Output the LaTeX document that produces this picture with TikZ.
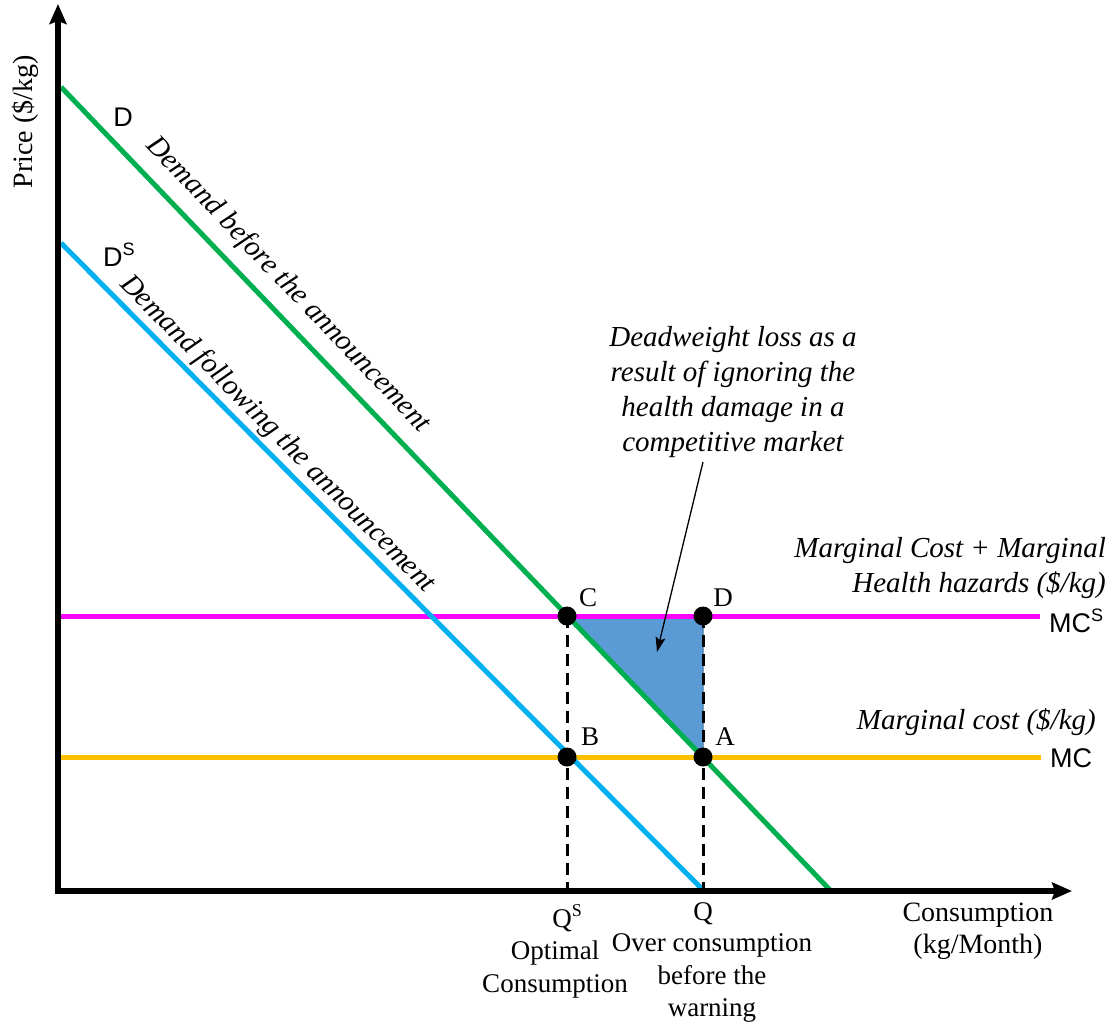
\documentclass[tikz,border=0pt]{standalone}
\usepackage{fontspec}
\setmainfont{Liberation Serif}
\newfontfamily\arialf{Liberation Sans}
\usetikzlibrary{arrows.meta}
\definecolor{dgreen}{HTML}{00B050}
\definecolor{lblue}{HTML}{00B0F0}
\definecolor{mag}{HTML}{FF00FF}
\definecolor{gold}{HTML}{FFC000}
\definecolor{tri}{HTML}{5B9BD5}
\definecolor{triedge}{HTML}{41719C}
\newcommand{\supS}[1]{\raisebox{0.42em}{\fontsize{#1}{#1}\selectfont S}}
\begin{document}
\begin{tikzpicture}[x=1pt,y=-1pt,
  axisln/.style={line width=6pt,line join=miter,{Stealth[length=20pt,width=17pt,inset=3pt]}-{Stealth[length=20pt,width=17pt,inset=3pt]}},
  curve/.style={line width=5pt},
  dashln/.style={line width=3pt,dash pattern=on 12pt off 7pt},
  dot/.style={circle,fill=black,inner sep=0pt,minimum size=19pt},
  serif/.style={font=\fontsize{27}{33}\selectfont,inner sep=0pt},
  ital/.style={font=\fontsize{29}{35}\selectfont\itshape,inner sep=0pt},
  sans/.style={font=\arialf\fontsize{27}{30}\selectfont,inner sep=0pt}]
\useasboundingbox (0,0) rectangle (1113,1026);
% triangle
\coordinate (Cp) at (567,616);
\coordinate (Dp) at (703,616);
\coordinate (Ap) at (703,757);
\coordinate (Bp) at (567,757);
\fill[tri,draw=triedge,line width=1pt] (Cp) -- (Dp) -- (Ap) -- cycle;
% curves
\draw[curve,mag] (61,616) -- (1040,616);
\draw[curve,gold] (61,757) -- (1041,757);
\draw[curve,lblue] (61,243) -- (703,890);
\draw[curve,dgreen] (61,87) -- (830,890);
% axes
\coordinate (ytop) at (58,4);
\coordinate (orig) at (58,891);
\coordinate (xend) at (1072,891);
\draw[axisln] (ytop) -- (orig) -- (xend);
% dashed
\coordinate (qs) at (567,891);
\coordinate (q) at (703,891);
\draw[dashln] (Cp) -- (qs);
\draw[dashln] (Dp) -- (q);
% dots
\node[dot] (C) at (Cp) {};
\node[dot] (D) at (Dp) {};
\node[dot] (A) at (Ap) {};
\node[dot] (B) at (Bp) {};
\node[serif] (lC) at (588,598) {C};
\node[serif] (lD) at (723,598) {D};
\node[serif] (lB) at (590,737) {B};
\node[serif] (lA) at (725,737) {A};
% labels
\node[sans] (lblD) at (123,117) {D};
\node[sans] (lblDs) at (119,255) {D\supS{18}};
\node[ital,rotate=-46.2] (tD) at (288,285) {Demand before the announcement};
\node[ital,rotate=-45.2] (tDs) at (277,434) {Demand following the announcement};
\node[ital,align=center] (dwl) at (733,392) {Deadweight loss as a\\result of ignoring the\\health damage in a\\competitive market};
\coordinate (arrS) at (703,462);
\coordinate (arrE) at (657,652);
\draw[line width=1.3pt,-{Stealth[length=15pt,width=10pt,inset=3pt]}] (arrS) -- (arrE);
\node[ital,align=right,anchor=east] (mcs) at (1106,568) {Marginal Cost + Marginal\\Health hazards (\$/kg)};
\node[ital,anchor=east] (mc) at (1096,722) {Marginal cost (\$/kg)};
\node[sans,anchor=west] (lMCs) at (1049,621) {MC\supS{18}};
\node[sans,anchor=west] (lMC) at (1050,758) {MC};
\node[serif] (lQs) at (567,918) {Q\supS{18}};
\node[serif] (lQ) at (703,914) {Q};
\node[serif,align=center,font=\fontsize{27}{33}\selectfont] (opt) at (555,969) {Optimal\\Consumption};
\node[serif,align=center,font=\fontsize{27}{32.5}\selectfont] (over) at (712,978) {Over consumption\\before the\\warning};
\node[serif,align=center,font=\fontsize{28}{32}\selectfont] (xl) at (978,931) {Consumption\\(kg/Month)};
\node[serif,rotate=90,font=\fontsize{28}{32}\selectfont] (yl) at (25,122) {Price (\$/kg)};
\end{tikzpicture}
\end{document}
